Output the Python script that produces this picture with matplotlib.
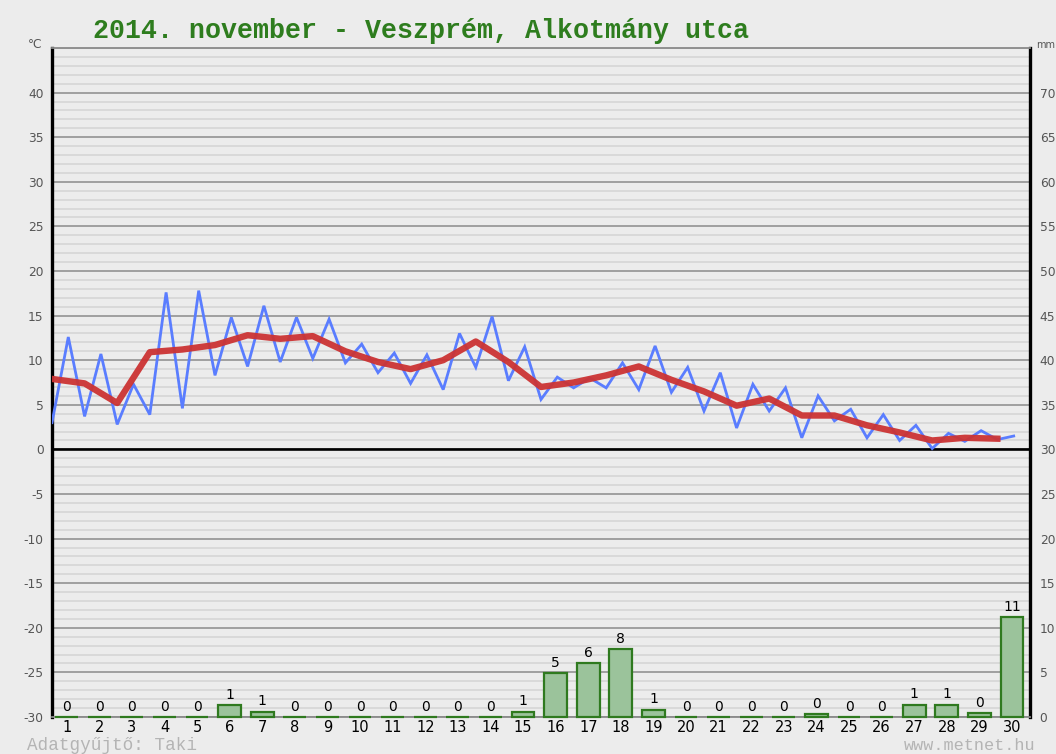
import numpy as np
import matplotlib
matplotlib.use("Agg")
import matplotlib.pyplot as plt

# ---------------- data ----------------
days = list(range(1, 31))
precip_mm = [0, 0, 0, 0, 0, 1.3, 0.6, 0, 0, 0, 0, 0, 0, 0, 0.6,
             4.9, 6.0, 7.6, 0.8, 0, 0, 0, 0, 0.3, 0, 0, 1.4, 1.4, 0.4, 11.2]
temp_mean = [7.9, 7.4, 5.2, 10.9, 11.2, 11.7, 12.8, 12.4, 12.7, 11.0,
             9.8, 9.0, 10.0, 12.1, 9.8, 7.0, 7.5, 8.3, 9.3, 7.8,
             6.5, 4.9, 5.7, 3.8, 3.8, 2.7, 1.9, 1.0, 1.3, 1.2]
temp_halfday = [3.0, 12.6, 3.7, 10.7, 2.8, 7.3, 3.9, 17.6, 4.6, 17.8,
                8.3, 14.8, 9.3, 16.1, 9.8, 14.8, 10.2, 14.6, 9.7, 11.8,
                8.6, 10.8, 7.4, 10.6, 6.7, 13.0, 9.2, 14.9, 7.7, 11.5,
                5.6, 8.1, 6.9, 8.0, 6.9, 9.7, 6.7, 11.6, 6.4, 9.2,
                4.3, 8.6, 2.4, 7.3, 4.3, 6.9, 1.3, 6.0, 3.2, 4.5,
                1.3, 3.9, 1.0, 2.7, 0.1, 1.8, 0.9, 2.1, 1.1, 1.5]
temp_ticks = list(range(-30, 41, 5))
mm_ticks = list(range(0, 71, 5))
title = "2014. november - Veszprém, Alkotmány utca"

# ---------------- figure ----------------
BG = "#ECECEC"
fig = plt.figure(figsize=(10.56, 7.54), dpi=100, facecolor=BG)
ax = fig.add_axes([52/1056, 1-717/754, (1030-52)/1056, (717-48)/754])
ax.set_facecolor(BG)
ax.set_xlim(0.55, 30.55)
ax.set_ylim(-30, 45)

# grid
ax.set_yticks(temp_ticks)
ax.set_yticks(np.arange(-30, 46, 1), minor=True)
ax.grid(which="minor", axis="y", color="#d8d8d8", lw=1.3, zorder=0)
ax.grid(which="major", axis="y", color="#9a9a9a", lw=1.3, zorder=0)
ax.axhline(45, color="#9a9a9a", lw=1.3, zorder=0)
ax.axhline(0, color="black", lw=1.9, zorder=2)
ax.set_xticks(days)
ax.set_xticklabels([str(d) for d in days], fontsize=10.5, color="black")
ax.set_yticklabels([str(t) for t in temp_ticks], fontsize=8.8, color="#555555")
ax.tick_params(axis="both", which="both", length=0)
ax.tick_params(axis="x", pad=2)
ax.tick_params(axis="y", pad=6)
ax.xaxis.grid(False)

for s in ["left", "right"]:
    ax.spines[s].set_color("black")
    ax.spines[s].set_linewidth(2.4)
for s in ["top", "bottom"]:
    ax.spines[s].set_color("#8a8a8a")
    ax.spines[s].set_linewidth(1.3)

# temperature lines
x_half = 0.55 + 0.5 * np.arange(len(temp_halfday))
x_mean = np.array(days) - 0.45
ax.plot(x_half, temp_halfday, color="#5a7dff", lw=2.0, zorder=3,
        solid_joinstyle="miter")
ax.plot(x_mean, temp_mean, color="#cc3333", lw=4.6, alpha=0.95, zorder=4,
        solid_joinstyle="round")

# precipitation on twin axis
ax2 = ax.twinx()
ax2.set_ylim(0, 75)
ax2.set_yticks(mm_ticks)
ax2.set_yticklabels([str(m) for m in mm_ticks], fontsize=8.8, color="#555555")
ax2.tick_params(axis="y", length=0, pad=7)
for s in ax2.spines.values():
    s.set_visible(False)
bars = ax2.bar(days, precip_mm, width=0.7, color="#9bc39b",
               edgecolor="#2f7a1f", linewidth=1.6, zorder=5, clip_on=False)
for d, v in zip(days, precip_mm):
    ax2.annotate(str(int(v + 0.5)), (d, v), xytext=(0, 2.5),
                 textcoords="offset points", ha="center", va="bottom",
                 fontsize=10, color="black")

# texts
fig.text(421/1056, 1-31/754, title, family="Liberation Mono",
         weight="bold", fontsize=19.2, color="#2e7d1e", ha="center", va="center")
fig.text(35/1056, 1-45/754, "°C", fontsize=8.8, color="#555555",
         ha="center", va="center")
fig.text(1036/1056, 1-45/754, "mm", fontsize=7, color="#555555",
         ha="left", va="center")
fig.text(27/1056, 1-745/754, "Adatgyűjtő: Taki", family="Liberation Mono",
         fontsize=12.7, color="#b4b4b4", ha="left", va="center")
fig.text(1035/1056, 1-745/754, "www.metnet.hu", family="Liberation Mono",
         fontsize=12.2, color="#b4b4b4", ha="right", va="center")

fig.savefig("out.png", dpi=100, facecolor=BG)
